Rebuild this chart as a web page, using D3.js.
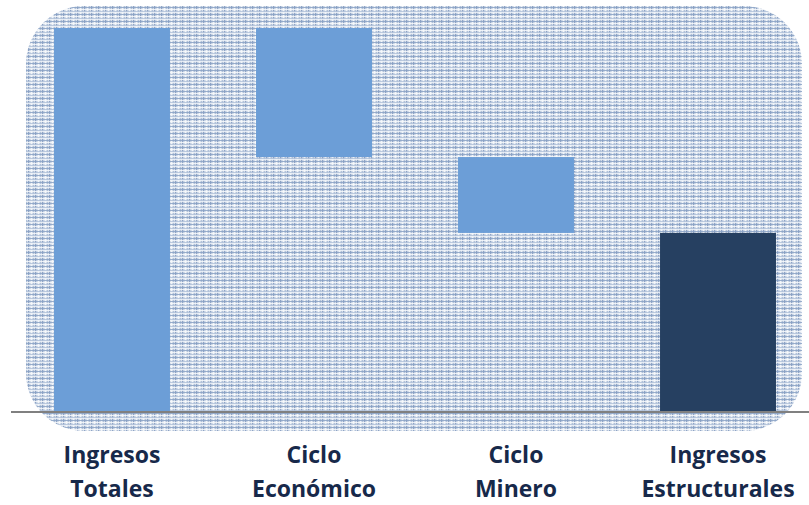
<!DOCTYPE html>
<html><head><meta charset="utf-8">
<script src="https://cdn.jsdelivr.net/npm/d3@7"></script>
<style>html,body{margin:0;padding:0;background:#fff;}svg{display:block;}</style>
</head><body>
<svg id="chart" width="809" height="505"></svg>
<script>
// Data (waterfall)
const categories = ["Ingresos Totales", "Ciclo Económico", "Ciclo Minero", "Ingresos Estructurales"];
const labelLines = [["Ingresos","Totales"],["Ciclo","Económico"],["Ciclo","Minero"],["Ingresos","Estructurales"]];
const deltas = [100, -33.7, -19.8, 46.5];
const kinds = ["total", "step", "step", "result"];

const svg = d3.select("#chart");

// build waterfall segments
let run = 0;
const segs = categories.map((c, i) => {
  let y0, y1;
  if (kinds[i] === "total" || kinds[i] === "result") { y0 = 0; y1 = Math.abs(deltas[i]); run = y1; }
  else { y0 = run + deltas[i]; y1 = run; run = y0; }
  return {c, i, y0, y1, kind: kinds[i]};
});

const x = d3.scaleBand().domain(categories).range([11, 819]).paddingInner(0.426).paddingOuter(0.213);
const y = d3.scaleLinear().domain([0, 100]).range([411, 28]);

// plaid pattern
const defs = svg.append("defs");
const P = 7;
const pat = defs.append("pattern").attr("id","plaid").attr("patternUnits","userSpaceOnUse")
  .attr("width",P).attr("height",P);
pat.append("rect").attr("width",P).attr("height",P).attr("fill","#d4dde9");
const vlines = [[0,"#8199be"],[1,"#bccbe0"],[3,"#f7f9fc"],[5,"#aabcd6"]];
const hlines = [[0,"#8aa2c6"],[2,"#f7f9fc"],[4,"#b3c3db"],[5,"#eef2f8"]];
vlines.forEach(([p,c]) => pat.append("rect").attr("x",p).attr("y",0).attr("width",1).attr("height",P).attr("fill",c).attr("opacity",0.85));
hlines.forEach(([p,c]) => pat.append("rect").attr("x",0).attr("y",p).attr("width",P).attr("height",1).attr("fill",c).attr("opacity",0.85));

// background rounded rect
svg.append("rect").attr("x",26).attr("y",6).attr("width",776).attr("height",425)
  .attr("rx",58).attr("ry",58).attr("fill","url(#plaid)");

// bars
svg.selectAll("rect.bar").data(segs).join("rect").attr("class","bar")
  .attr("x", d => x(d.c)).attr("width", x.bandwidth())
  .attr("y", d => y(d.y1)).attr("height", d => y(d.y0) - y(d.y1))
  .attr("fill", d => d.kind === "result" ? "#264061" : "#6c9ed7");

// axis line
svg.append("line").attr("x1",11).attr("x2",809).attr("y1",412).attr("y2",412)
  .attr("stroke","#808080").attr("stroke-width",2);

// labels
const lab = svg.selectAll("text.lab").data(labelLines).join("text").attr("class","lab")
  .attr("text-anchor","middle")
  .attr("font-family","'Open Sans', sans-serif").attr("font-weight","bold").attr("font-size",23)
  .attr("fill","#17294a");
lab.each(function(lines, i){
  const t = d3.select(this);
  lines.forEach((l, k) => {
    t.append("tspan").attr("x", x(categories[i]) + x.bandwidth()/2).attr("y", 463 + k*33.5).text(l);
  });
});
</script>
</body></html>
